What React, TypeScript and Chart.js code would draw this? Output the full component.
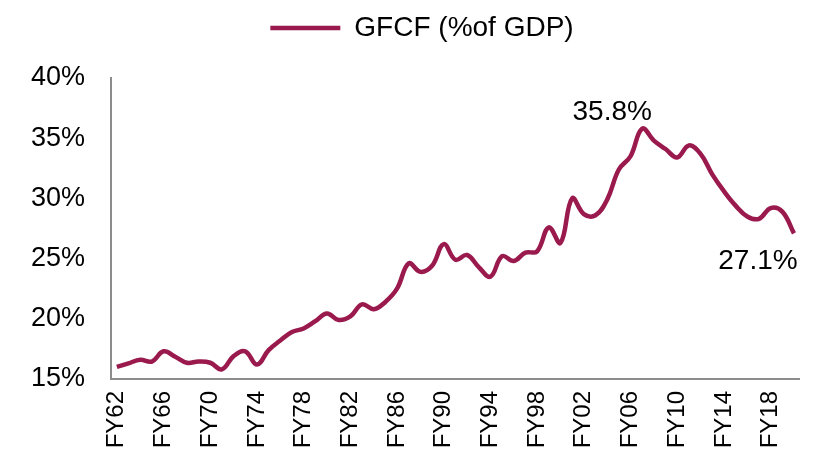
import React, { useEffect, useRef } from "react";
import { Chart, registerables } from "chart.js";

Chart.register(...registerables);

const categories = [
  "FY62", "FY63", "FY64", "FY65", "FY66", "FY67", "FY68", "FY69", "FY70", "FY71",
  "FY72", "FY73", "FY74", "FY75", "FY76", "FY77", "FY78", "FY79", "FY80", "FY81",
  "FY82", "FY83", "FY84", "FY85", "FY86", "FY87", "FY88", "FY89", "FY90", "FY91",
  "FY92", "FY93", "FY94", "FY95", "FY96", "FY97", "FY98", "FY99", "FY00", "FY01",
  "FY02", "FY03", "FY04", "FY05", "FY06", "FY07", "FY08", "FY09", "FY10", "FY11",
  "FY12", "FY13", "FY14", "FY15", "FY16", "FY17", "FY18", "FY19", "FY20",
];

const gfcf = [
  16.0, 16.3, 16.6, 16.45, 17.3, 16.85, 16.35, 16.45, 16.35, 15.8,
  16.9, 17.3, 16.2, 17.4, 18.2, 18.9, 19.2, 19.8, 20.45, 19.9,
  20.2, 21.2, 20.8, 21.4, 22.5, 24.6, 23.9, 24.4, 26.2, 24.9,
  25.3, 24.3, 23.5, 25.2, 24.8, 25.5, 25.6, 27.6, 26.3, 30.0,
  28.7, 28.6, 29.9, 32.4, 33.5, 35.8, 34.8, 34.1, 33.4, 34.4,
  33.7, 32.0, 30.6, 29.4, 28.5, 28.3, 29.2, 28.9, 27.1,
];

const yTicks = [15, 20, 25, 30, 35, 40];
const seriesName = "GFCF (%of GDP)";
const annotatedIndices = [45, 58];

const FONT = "'Liberation Sans', Arial, sans-serif";
const LINE_COLOR = "#9A1A4E";

export default function App() {
  const canvasRef = useRef<HTMLCanvasElement | null>(null);

  useEffect(() => {
    const canvas = canvasRef.current;
    if (!canvas) return;

    const legendAdjust = {
      id: "legendAdjust",
      beforeInit(chart: any) {
        const legend = chart.legend;
        if (!legend) return;
        const origFit = legend.fit;
        legend.fit = function () {
          origFit.call(this);
          this.height += 26;
        };
        const origDraw = legend.draw;
        legend.draw = function () {
          const ctx = this.ctx;
          ctx.save();
          ctx.translate(18, 0);
          origDraw.call(this);
          ctx.restore();
        };
      },
    };

    const valueLabels = {
      id: "valueLabels",
      afterDatasetsDraw(chart: any) {
        const meta = chart.getDatasetMeta(0);
        const ctx = chart.ctx;
        ctx.save();
        ctx.font = `28px ${FONT}`;
        ctx.fillStyle = "#000";
        ctx.textAlign = "center";
        ctx.textBaseline = "middle";
        const [peakIdx, lastIdx] = annotatedIndices;
        const p = meta.data[peakIdx];
        if (p) ctx.fillText(gfcf[peakIdx].toFixed(1) + "%", p.x - 30, p.y - 16);
        const l = meta.data[lastIdx];
        if (l) ctx.fillText(gfcf[lastIdx].toFixed(1) + "%", l.x - 36, l.y + 28);
        ctx.restore();
      },
    };

    const chart = new Chart(canvas, {
      type: "line",
      data: {
        labels: categories,
        datasets: [
          {
            label: seriesName,
            data: gfcf,
            borderColor: LINE_COLOR,
            backgroundColor: LINE_COLOR,
            borderWidth: 4.5,
            pointRadius: 0,
            tension: 0.4,
            fill: false,
          },
        ],
      },
      options: {
        animation: false,
        responsive: false,
        maintainAspectRatio: false,
        layout: { padding: { left: 0, right: 27, top: 0, bottom: 0 } },
        plugins: {
          legend: {
            display: true,
            position: "top",
            labels: {
              usePointStyle: true,
              pointStyle: "line",
              pointStyleWidth: 70,
              color: "#000",
              font: { size: 28, family: FONT },
              padding: 14,
            },
          },
          tooltip: { enabled: false },
        },
        scales: {
          x: {
            type: "category",
            offset: true,
            grid: { display: false, drawTicks: false },
            border: { display: true, color: "#8C8C8C", width: 2 },
            ticks: {
              autoSkip: false,
              minRotation: 90,
              maxRotation: 90,
              padding: 12,
              color: "#000",
              font: { size: 24, family: FONT },
              callback: function (this: any, v: any, i: number) {
                return i % 4 === 0 ? categories[i] : "";
              },
            },
            afterFit: (scale: any) => {
              scale.height = 76;
            },
          },
          y: {
            min: 15,
            max: 40,
            grid: { display: false, drawTicks: false },
            border: { display: true, color: "#8C8C8C", width: 2 },
            afterBuildTicks: (scale: any) => {
              scale.ticks = yTicks.map((v) => ({ value: v }));
            },
            ticks: {
              padding: 26,
              color: "#000",
              font: { size: 27, family: FONT },
              callback: (v: any) => v + "%",
            },
            afterFit: (scale: any) => {
              scale.width = 111;
            },
          },
        },
      },
      plugins: [legendAdjust, valueLabels],
    });

    return () => chart.destroy();
  }, []);

  return (
    <div style={{ position: "fixed", left: 0, top: 0, width: 835, height: 455, background: "#fff" }}>
      <canvas ref={canvasRef} width={835} height={455} style={{ width: 835, height: 455 }} />
    </div>
  );
}
